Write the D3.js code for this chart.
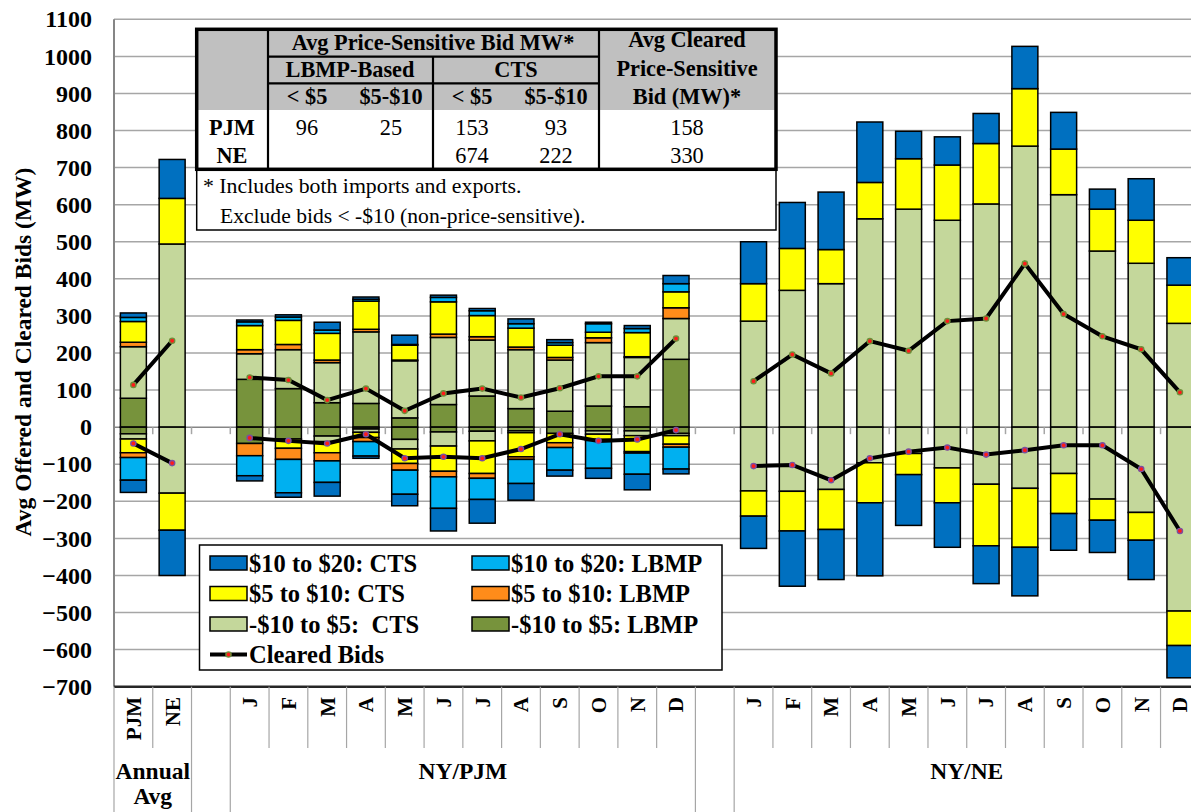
<!DOCTYPE html>
<html>
<head>
<meta charset="utf-8">
<script src="https://cdn.jsdelivr.net/npm/d3@7"></script>
<style>
  body { margin: 0; background: #fff; }
  text { font-family: "Liberation Serif", "Times New Roman", serif; fill: #000; }
</style>
</head>
<body>
<script>
// x categories: annual avg, gap, NY/PJM months, gap, NY/NE months
var categories = ["PJM","NE","","J","F","M","A","M","J","J","A","S","O","N","D",
                  "","J","F","M","A","M","J","J","A","S","O","N","D"];
var groups = [
  {label: ["Annual", "Avg"], from: 0, to: 1},
  {label: ["NY/PJM"], from: 3, to: 14},
  {label: ["NY/NE"], from: 16, to: 27}
];
var yTicks = d3.range(-700, 1101, 100);

// positive side (offered above zero), MW
var lbmpLowPos  = [78,0, 0, 129,104,66,64,25,61,84,50,43,57,55,183, 0, 0,0,0,0,0,0,0,0,0,0,0,0];
var ctsLowPos   = [139,494, 0, 69,105,108,193,154,181,151,159,138,171,133,110, 0, 286,369,387,562,588,558,602,758,627,475,442,280];
var lbmpMidPos  = [12,0, 0, 11,14,7,7,2,9,9,7,7,13,2,29, 0, 0,0,0,0,0,0,0,0,0,0,0,0];
var ctsMidPos   = [56,123, 0, 65,65,72,76,40,87,57,51,33,15,65,43, 0, 101,113,92,98,136,149,163,155,123,113,116,103];
var lbmpHighPos = [11,0, 0, 10,9,9,5,2,12,13,12,7,23,11,22, 0, 0,0,0,0,0,0,0,0,0,0,0,0];
var ctsHighPos  = [12,105, 0, 5,6,21,6,25,6,6,13,8,4,8,22, 0, 113,124,155,163,74,76,81,114,99,54,112,74];

// negative side (below zero), MW
var lbmpLowNeg  = [-18,0, 0, -44,-32,-24,-5,-33,-13,-11,-10,-17,-10,-10,-17, 0, 0,0,0,0,0,0,0,0,0,0,0,0];
var ctsLowNeg   = [-14,-178, 0, 0,0,-15,-9,-26,-38,-26,-5,0,-9,-13,-6, 0, -172,-173,-168,-96,-71,-110,-154,-165,-125,-194,-230,-496];
var ctsMidNeg   = [-37,-100, 0, 0,-25,-30,-14,-39,-68,-88,-65,-25,-14,-43,-23, 0, -68,-107,-108,-108,-57,-94,-166,-159,-108,-57,-75,-93];
var lbmpMidNeg  = [-13,0, 0, -33,-30,-22,-11,-18,-15,-13,-7,-13,-3,-4,-8, 0, 0,0,0,0,0,0,0,0,0,0,0,0];
var lbmpHighNeg = [-61,0, 0, -54,-90,-58,-39,-65,-85,-57,-65,-61,-75,-57,-59, 0, 0,0,0,0,0,0,0,0,0,0,0,0];
var ctsHighNeg  = [-33,-122, 0, -14,-12,-37,-6,-31,-61,-64,-45,-16,-27,-42,-13, 0, -87,-149,-135,-197,-137,-120,-102,-131,-99,-87,-106,-87];

// cleared bids (null = gap in the line)
var clearedPos = [114,233, null, 134,127,73,104,44,91,104,80,105,137,137,239, null, 124,196,145,232,206,286,293,441,305,245,210,94];
var clearedNeg = [-44,-97, null, -29,-37,-44,-19,-84,-80,-84,-59,-19,-37,-33,-8, null, -105,-102,-143,-84,-66,-55,-74,-62,-49,-49,-113,-280];

// table figures
var tableRows = [
  {name: "PJM", vals: ["96", "25", "153", "93", "158"]},
  {name: "NE",  vals: ["", "", "674", "222", "330"]}
];

var colors = {
  ctsHigh: "#0070c0", lbmpHigh: "#00b0f0",
  ctsMid: "#ffff00", lbmpMid: "#ff8c1a",
  ctsLow: "#c4d79b", lbmpLow: "#77933c"
};

var width = 1191, height = 812;
var plot = {left: 114, right: 1199.3, top: 19.3, bottom: 686.7};

var svg = d3.select("body").append("svg")
  .attr("width", width).attr("height", height);

var x = d3.scaleBand().domain(d3.range(categories.length))
  .range([plot.left, plot.right]).paddingInner(0.33).paddingOuter(0.165);
var y = d3.scaleLinear().domain([-700, 1100]).range([plot.bottom, plot.top]);
var step = x.step();

// gridlines
svg.append("g").selectAll("line").data(yTicks).enter().append("line")
  .attr("x1", plot.left).attr("x2", plot.right)
  .attr("y1", function(d) { return y(d); }).attr("y2", function(d) { return y(d); })
  .attr("stroke", function(d) { return d === 0 ? "#868686" : "#a6a6a6"; })
  .attr("stroke-width", 1.5);

// small ticks under the zero line
svg.append("g").selectAll("line").data(d3.range(categories.length + 1)).enter().append("line")
  .attr("x1", function(i) { return plot.left + i * step; })
  .attr("x2", function(i) { return plot.left + i * step; })
  .attr("y1", y(0)).attr("y2", y(0) + 7)
  .attr("stroke", "#a6a6a6").attr("stroke-width", 1.5);

// left axis line
svg.append("line").attr("x1", plot.left).attr("x2", plot.left)
  .attr("y1", plot.top).attr("y2", plot.bottom)
  .attr("stroke", "#868686").attr("stroke-width", 2);

// y axis labels
var yAxis = d3.axisLeft(y).tickValues(yTicks).tickFormat(d3.format("d"))
  .tickSize(0).tickPadding(22);
var yg = svg.append("g").attr("transform", "translate(" + plot.left + ",0)").call(yAxis);
yg.select(".domain").remove();
yg.selectAll("text")
  .style("font-family", "'Liberation Serif', serif")
  .style("font-size", "24px").style("font-weight", "bold");

svg.append("text")
  .attr("transform", "translate(31,352) rotate(-90)")
  .attr("text-anchor", "middle")
  .style("font-size", "23.5px").style("font-weight", "bold")
  .text("Avg Offered and Cleared Bids (MW)");

// stacked bars
var rows = categories.map(function(c, i) {
  return {
    lbmpLow: lbmpLowPos[i], ctsLow: ctsLowPos[i], lbmpMid: lbmpMidPos[i],
    ctsMid: ctsMidPos[i], lbmpHigh: lbmpHighPos[i], ctsHigh: ctsHighPos[i]
  };
});
var rowsNeg = categories.map(function(c, i) {
  return {
    lbmpLow: lbmpLowNeg[i], ctsLow: ctsLowNeg[i], ctsMid: ctsMidNeg[i],
    lbmpMid: lbmpMidNeg[i], lbmpHigh: lbmpHighNeg[i], ctsHigh: ctsHighNeg[i]
  };
});
var posStack = d3.stack()
  .keys(["lbmpLow","ctsLow","lbmpMid","ctsMid","lbmpHigh","ctsHigh"])
  .offset(d3.stackOffsetDiverging)(rows);
var negStack = d3.stack()
  .keys(["lbmpLow","ctsLow","ctsMid","lbmpMid","lbmpHigh","ctsHigh"])
  .offset(d3.stackOffsetDiverging)(rowsNeg);

function drawStack(stack) {
  svg.append("g").selectAll("g").data(stack).enter().append("g")
    .attr("fill", function(s) { return colors[s.key]; })
    .selectAll("rect")
    .data(function(s) { return s.map(function(d, i) { return {lo: d[0], hi: d[1], i: i}; })
                                .filter(function(d) { return d.hi !== d.lo; }); })
    .enter().append("rect")
    .attr("x", function(d) { return x(d.i); })
    .attr("width", x.bandwidth())
    .attr("y", function(d) { return y(Math.max(d.lo, d.hi)); })
    .attr("height", function(d) { return Math.abs(y(d.lo) - y(d.hi)); })
    .attr("stroke", "#000").attr("stroke-width", 1.5);
}
drawStack(posStack);
drawStack(negStack);

// cleared bids lines
var line = d3.line()
  .defined(function(d) { return d.v !== null; })
  .x(function(d) { return x(d.i) + x.bandwidth() / 2; })
  .y(function(d) { return y(d.v); });

function drawCleared(values, ring) {
  var pts = values.map(function(v, i) { return {v: v, i: i}; });
  svg.append("path").datum(pts)
    .attr("d", line).attr("fill", "none")
    .attr("stroke", "#000").attr("stroke-width", 4);
  svg.append("g").selectAll("circle")
    .data(pts.filter(function(d) { return d.v !== null; })).enter().append("circle")
    .attr("cx", function(d) { return x(d.i) + x.bandwidth() / 2; })
    .attr("cy", function(d) { return y(d.v); })
    .attr("r", 2.6).attr("fill", "#ff1a1a")
    .attr("stroke", ring).attr("stroke-width", 1.4);
}
drawCleared(clearedPos, "#6e8f3a");
drawCleared(clearedNeg, "#7a4fa0");

// category table under the plot
var bottomLines = svg.append("g");
bottomLines.append("line")
  .attr("x1", plot.left).attr("x2", plot.right)
  .attr("y1", plot.bottom).attr("y2", plot.bottom)
  .attr("stroke", "#262626").attr("stroke-width", 2.5);
var fullLines = [0, 2, 3, 15, 16];
bottomLines.selectAll("line.v").data(d3.range(categories.length + 1)).enter().append("line")
  .attr("class", "v")
  .attr("x1", function(i) { return plot.left + i * step; })
  .attr("x2", function(i) { return plot.left + i * step; })
  .attr("y1", plot.bottom)
  .attr("y2", function(i) { return fullLines.indexOf(i) >= 0 ? height : 748; })
  .attr("stroke", "#a6a6a6").attr("stroke-width", 1.2);

svg.append("g").selectAll("text").data(categories).enter().append("text")
  .attr("transform", function(d, i) {
    return "translate(" + (x(i) + x.bandwidth() / 2) + ",697) rotate(-90)";
  })
  .attr("text-anchor", "end").attr("dy", "0.35em")
  .style("font-size", "21px").style("font-weight", "bold")
  .text(function(d) { return d; });

groups.forEach(function(g) {
  var cx = (plot.left + g.from * step + plot.left + (g.to + 1) * step) / 2;
  g.label.forEach(function(t, k) {
    svg.append("text").attr("x", cx).attr("y", 779 + k * 25)
      .attr("text-anchor", "middle")
      .style("font-size", "23.5px").style("font-weight", "bold")
      .text(t);
  });
});

// summary table
var tb = svg.append("g");
tb.append("rect").attr("x", 196.7).attr("y", 29.3).attr("width", 579.3).attr("height", 80.7)
  .attr("fill", "#c0c0c0");
tb.append("rect").attr("x", 196.7).attr("y", 110).attr("width", 579.3).attr("height", 59.3)
  .attr("fill", "#fff");
tb.append("rect").attr("x", 196.7).attr("y", 169.3).attr("width", 579.3).attr("height", 60.7)
  .attr("fill", "#fff").attr("stroke", "#000").attr("stroke-width", 1.5);
tb.append("rect").attr("x", 196.7).attr("y", 29.3).attr("width", 579.3).attr("height", 140)
  .attr("fill", "none").attr("stroke", "#000").attr("stroke-width", 3.5);
[[268, 29.3, 268, 169.3], [433, 56.7, 433, 169.3], [599, 29.3, 599, 169.3],
 [268, 56.7, 599, 56.7], [268, 83.3, 599, 83.3]].forEach(function(l) {
  tb.append("line").attr("x1", l[0]).attr("y1", l[1]).attr("x2", l[2]).attr("y2", l[3])
    .attr("stroke", "#000").attr("stroke-width", 2.2);
});

function cell(tx, ty, str, bold, size) {
  tb.append("text").attr("x", tx).attr("y", ty).attr("text-anchor", "middle")
    .style("font-size", (size || 22.3) + "px").style("font-weight", bold ? "bold" : "normal")
    .text(str);
}
cell(433, 50, "Avg Price-Sensitive Bid MW*", true);
cell(350, 77, "LBMP-Based", true);
cell(516, 77, "CTS", true);
var subCols = [307, 391, 472, 556];
["< $5", "$5-$10", "< $5", "$5-$10"].forEach(function(t, k) { cell(subCols[k], 104, t, true); });
cell(687, 47, "Avg Cleared", true);
cell(687, 76, "Price-Sensitive", true);
cell(687, 104, "Bid (MW)*", true);
var valCols = subCols.concat([687]);
tableRows.forEach(function(r, k) {
  var ty = 135 + k * 28;
  cell(232, ty, r.name, true);
  r.vals.forEach(function(v, j) { if (v) cell(valCols[j], ty, v, false); });
});
tb.append("text").attr("x", 203).attr("y", 193).style("font-size", "21.8px")
  .text("* Includes both imports and exports.");
tb.append("text").attr("x", 220).attr("y", 223).style("font-size", "21.6px")
  .text("Exclude bids < -$10 (non-price-sensitive).");

// legend
var legendItems = [
  {label: "$10 to $20: CTS", key: "ctsHigh"}, {label: "$10 to $20: LBMP", key: "lbmpHigh"},
  {label: "$5 to $10: CTS", key: "ctsMid"}, {label: "$5 to $10: LBMP", key: "lbmpMid"},
  {label: "-$10 to $5:  CTS", key: "ctsLow"}, {label: "-$10 to $5: LBMP", key: "lbmpLow"},
  {label: "Cleared Bids", key: null}
];
var lg = svg.append("g");
lg.append("rect").attr("x", 199.5).attr("y", 545).attr("width", 522.5).attr("height", 125)
  .attr("fill", "#fff").attr("stroke", "#000").attr("stroke-width", 1.5);
legendItems.forEach(function(d, k) {
  var lx = k % 2 === 0 ? 210 : 472;
  var ly = 563 + Math.floor(k / 2) * 30.5;
  if (d.key) {
    lg.append("rect").attr("x", lx).attr("y", ly - 7).attr("width", 37).attr("height", 14)
      .attr("fill", colors[d.key]).attr("stroke", "#000").attr("stroke-width", 1.5);
  } else {
    lg.append("line").attr("x1", lx).attr("x2", lx + 37).attr("y1", ly).attr("y2", ly)
      .attr("stroke", "#000").attr("stroke-width", 4);
    lg.append("circle").attr("cx", lx + 18.5).attr("cy", ly).attr("r", 2.6)
      .attr("fill", "#ff1a1a").attr("stroke", "#6e8f3a").attr("stroke-width", 1.4);
  }
  lg.append("text").attr("x", lx + 39).attr("y", ly).attr("dy", "0.35em")
    .style("font-size", "24.5px").style("font-weight", "bold")
    .style("white-space", "pre")
    .text(d.label);
});
</script>
</body>
</html>
